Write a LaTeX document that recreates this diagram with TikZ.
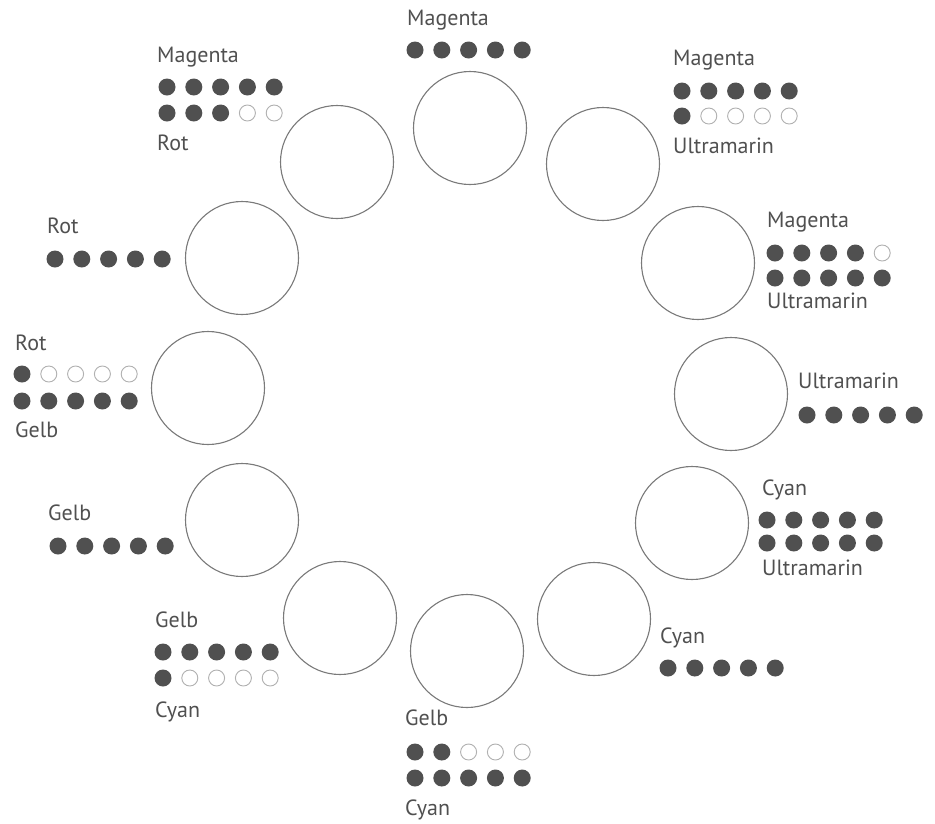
\documentclass[tikz,border=0pt]{standalone}
\usepackage{fontspec}
\setmainfont{PT Sans}
\definecolor{ringgray}{HTML}{7A7A7A}
\definecolor{dotgray}{HTML}{505050}
\definecolor{opengray}{HTML}{B0B0B0}
\definecolor{textgray}{HTML}{505050}
\newcommand\dotrow[4]{%
  \foreach \v [count=\i from 0] in {#4} {%
    \ifnum\v=1
      \node[fulldot] (#1-\i) at ({#2+26.8*\i},#3) {};
    \else
      \node[opendot] (#1-\i) at ({#2+26.8*\i},#3) {};
    \fi
  }}
\begin{document}
\begin{tikzpicture}[x=1pt,y=-1pt,
  ring/.style={circle,draw=ringgray,line width=1.1pt,minimum size=113pt,inner sep=0pt},
  fulldot/.style={circle,fill=dotgray,draw=none,minimum size=17pt,inner sep=0pt},
  opendot/.style={circle,draw=opengray,line width=0.9pt,minimum size=16pt,inner sep=0pt},
  lbl/.style={anchor=mid west,inner sep=0pt,text=textgray,font=\fontsize{22}{24}\selectfont}]
\useasboundingbox[fill=white] (0,0) rectangle (935,823);
% rings
\node[ring] (c1) at (470,128) {};
\node[ring] (c2) at (603,164) {};
\node[ring] (c3) at (698,263) {};
\node[ring] (c4) at (731,394) {};
\node[ring] (c5) at (692,523) {};
\node[ring] (c6) at (594,619) {};
\node[ring] (c7) at (467,651) {};
\node[ring] (c8) at (340,618) {};
\node[ring] (c9) at (242,520) {};
\node[ring] (c10) at (208,388) {};
\node[ring] (c11) at (242,258) {};
\node[ring] (c12) at (337,162) {};
% top
\node[lbl] (l1a) at (407,23) {Magenta};
\dotrow{d1a}{415}{50}{1,1,1,1,1}
% top right
\node[lbl] (l2a) at (673,63) {Magenta};
\dotrow{d2a}{682}{91}{1,1,1,1,1}
\dotrow{d2b}{682}{116}{1,0,0,0,0}
\node[lbl] (l2b) at (673,151) {Ultramarin};
% right upper
\node[lbl] (l3a) at (767,225) {Magenta};
\dotrow{d3a}{775}{253}{1,1,1,1,0}
\dotrow{d3b}{775}{278}{1,1,1,1,1}
\node[lbl] (l3b) at (767,306) {Ultramarin};
% right
\node[lbl] (l4a) at (798,386) {Ultramarin};
\dotrow{d4a}{807}{415}{1,1,1,1,1}
% right lower
\node[lbl] (l5a) at (762,493) {Cyan};
\dotrow{d5a}{767}{520}{1,1,1,1,1}
\dotrow{d5b}{767}{543}{1,1,1,1,1}
\node[lbl] (l5b) at (762,573) {Ultramarin};
% bottom right
\node[lbl] (l6a) at (660,641) {Cyan};
\dotrow{d6a}{668}{668}{1,1,1,1,1}
% bottom
\node[lbl] (l7a) at (405,723) {Gelb};
\dotrow{d7a}{415}{752}{1,1,0,0,0}
\dotrow{d7b}{415}{778}{1,1,1,1,1}
\node[lbl] (l7b) at (405,813) {Cyan};
% bottom left
\node[lbl] (l8a) at (155,625) {Gelb};
\dotrow{d8a}{163}{652}{1,1,1,1,1}
\dotrow{d8b}{163}{678}{1,0,0,0,0}
\node[lbl] (l8b) at (155,715) {Cyan};
% left lower
\node[lbl] (l9a) at (48,518) {Gelb};
\dotrow{d9a}{58}{546}{1,1,1,1,1}
% left
\node[lbl] (l10a) at (15,348) {Rot};
\dotrow{d10a}{22}{374}{1,0,0,0,0}
\dotrow{d10b}{22}{401}{1,1,1,1,1}
\node[lbl] (l10b) at (15,435) {Gelb};
% left upper
\node[lbl] (l11a) at (47,231) {Rot};
\dotrow{d11a}{55}{259}{1,1,1,1,1}
% top left
\node[lbl] (l12a) at (157,60) {Magenta};
\dotrow{d12a}{167}{87}{1,1,1,1,1}
\dotrow{d12b}{167}{113}{1,1,1,0,0}
\node[lbl] (l12b) at (157,148) {Rot};
\end{tikzpicture}
\end{document}
